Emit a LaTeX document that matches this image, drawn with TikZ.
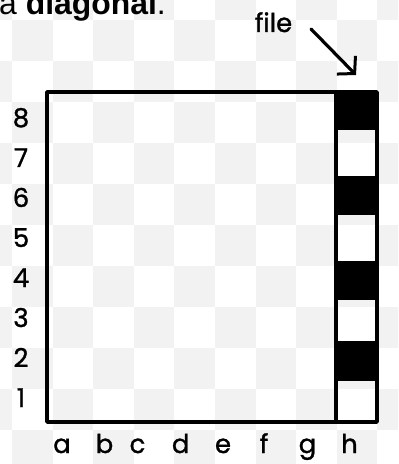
\documentclass[tikz,border=0pt]{standalone}
\usepackage{fontspec}
\setmainfont{Poppins}
\newfontfamily\lblfont[FakeBold=1.2]{Poppins}
\newfontfamily\titlefont{Liberation Sans}
\usetikzlibrary{arrows.meta}
\definecolor{chk}{HTML}{F2F2F2}
\tikzset{
  lbl/.style={font=\lblfont\fontsize{26}{30}\selectfont, inner sep=0pt, text=black},
  boardline/.style={line width=3.6bp, line cap=round, line join=round},
  blacksq/.style={fill=black},
  arrowline/.style={line width=3.2bp, line cap=round,
    -{Straight Barb[length=12bp, width=26bp, line width=3bp]}}
}
\begin{document}
\begin{tikzpicture}[x=1bp,y=-1bp]
\useasboundingbox (0,0) rectangle (398,464);
\clip (0,0) rectangle (398,464);
% transparency-style checker background
\fill[white] (0,0) rectangle (398,464);
\foreach \i in {-1,...,9}{
  \foreach \j in {-1,...,11}{
    \pgfmathtruncatemacro{\chkpar}{mod(\i+\j+20,2)}
    \ifnum\chkpar=0
      \fill[chk] ({12+40.6*\i},{20+41*\j}) rectangle ++(40.6,41);
    \fi
  }
}
% title fragment
\node[anchor=base west, inner sep=0pt, font=\titlefont\fontsize{32}{38}\selectfont] (title) at (-1,15) {a \textbf{diagonal}.};
% black squares on file h
\fill[blacksq] (336,90) rectangle (377,130);
\fill[blacksq] (336,176) rectangle (377,215);
\fill[blacksq] (336,261) rectangle (377,300);
\fill[blacksq] (336,341) rectangle (377,381);
% board
\draw[boardline] (47,92) rectangle (377,422);
\draw[boardline, line width=3.2bp] (336,92) -- (336,422);
% rank labels
\foreach \r in {1,...,8}{
  \node[lbl, anchor=base] (rank\r) at (21,{127+(8-\r)*40}) {\r};
}
% file labels
\foreach \f/\x in {a/62,b/104.5,c/137.5,d/180.7,e/223,f/264,g/307.5,h/349.5}{
  \node[lbl, anchor=base] (file\f) at (\x,453) {\f};
}
% "file" annotation
\node[lbl, anchor=base] (filelabel) at (273.5,32) {file};
\coordinate (astart) at (311,29);
\coordinate (atip) at (356,75);
\draw[arrowline] (astart) -- (atip);
\end{tikzpicture}
\end{document}
